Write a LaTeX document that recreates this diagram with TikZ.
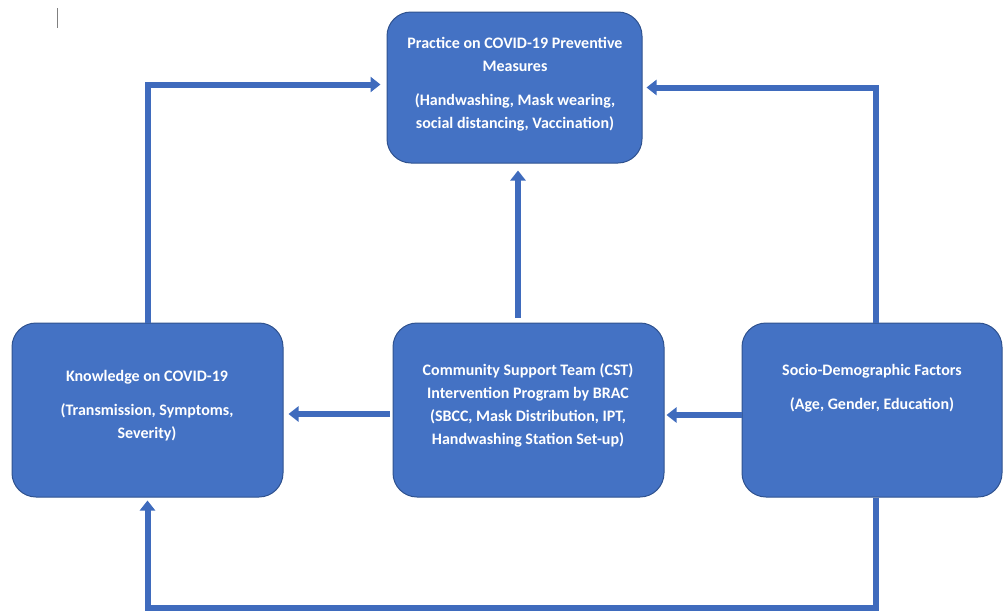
\documentclass[tikz,border=0pt]{standalone}
\usepackage{fontspec}
\setmainfont{Carlito}
\usepackage{tikz}
\usetikzlibrary{arrows.meta}

\definecolor{boxblue}{HTML}{4472C4}
\definecolor{edgeblue}{HTML}{2F528F}
\definecolor{arrowblue}{HTML}{3F6BBD}

\begin{document}
\begin{tikzpicture}[x=1pt, y=-1pt]
    % Styles
    \tikzstyle{box} = [rectangle, rounded corners=24pt, draw=edgeblue, line width=1pt, fill=boxblue, inner sep=0pt]
    \tikzstyle{txt} = [text=white, align=center, font=\fontsize{16}{23}\selectfont\bfseries, inner sep=0pt]
    \tikzstyle{arrow} = [draw=arrowblue, line width=6pt, -{Triangle[width=15pt,length=10pt]}]

    \useasboundingbox (0,0) rectangle (1003,613);
    \draw[gray, line width=0.8pt] (57,8) -- (57,28);

    % Boxes
    \node[box, minimum width=255pt, minimum height=151pt] (prac) at (514.5, 87.5) {};
    \node[box, minimum width=271pt, minimum height=174pt] (know) at (147.5, 410) {};
    \node[box, minimum width=271pt, minimum height=174pt] (cst) at (528.5, 410) {};
    \node[box, minimum width=260pt, minimum height=174pt] (socio) at (872, 410) {};

    % Texts
    \node[txt] (pracT) at (515, 84) {Practice on COVID-19 Preventive\\Measures\\[11pt](Handwashing, Mask wearing,\\social distancing, Vaccination)};
    \node[txt] (knowT) at (147, 406) {Knowledge on COVID-19\\[11pt](Transmission, Symptoms,\\Severity)};
    \node[txt] (cstT) at (528, 405) {Community Support Team (CST)\\Intervention Program by BRAC\\(SBCC, Mask Distribution, IPT,\\Handwashing Station Set-up)};
    \node[txt] (socioT) at (872, 388) {Socio-Demographic Factors\\[11pt](Age, Gender, Education)};

    % Arrows
    \coordinate (upfoot) at (518, 318);
    \coordinate (loopR) at (876, 323);
    \draw[arrow, shorten >=6pt] (know.north) |- ([yshift=3pt]prac.west);
    \draw[arrow, shorten >=4pt] (loopR) |- (prac.east);
    \draw[arrow, shorten >=7pt] (upfoot) -- (upfoot |- prac.south);
    \draw[arrow, shorten <=3pt, shorten >=5pt] ([yshift=-4pt]cst.west) -- ([yshift=-4pt]know.east);
    \draw[arrow, shorten >=2pt] ([yshift=-5pt]socio.west) -- ([yshift=-5pt]cst.east);
    \draw[arrow, shorten >=3pt] ([xshift=4pt]socio.south) -- ++(0,110) -| (know.south);
\end{tikzpicture}
\end{document}
